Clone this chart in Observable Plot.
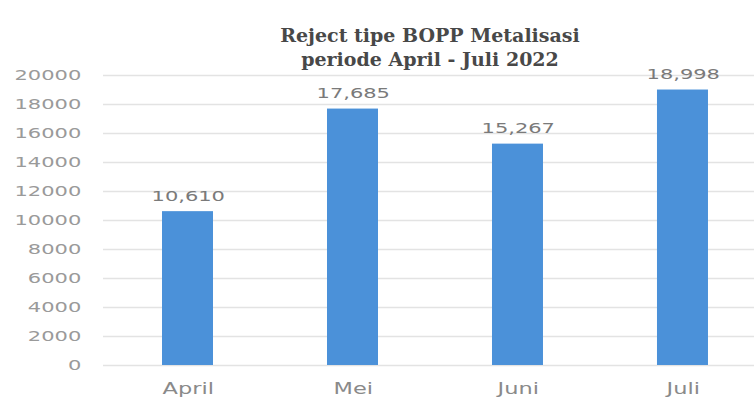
<!DOCTYPE html>
<html>
<head>
<meta charset="utf-8">
<script src="https://cdn.jsdelivr.net/npm/d3@7"></script>
<script src="https://cdn.jsdelivr.net/npm/@observablehq/plot@0.6"></script>
<style>
  html, body { margin: 0; padding: 0; background: #fff; width: 754px; height: 401px; overflow: hidden; }
  #title { height: 70px; box-sizing: border-box; padding-top: 23px; margin-left: 106px; width: 648px;
           text-align: center; font-family: "DejaVu Serif", serif; font-weight: bold; font-size: 19px; line-height: 24px; color: #484848; }
  #chart svg { display: block; transform: scaleX(1.5); transform-origin: 0 0; }
</style>
</head>
<body>
<div id="title">Reject tipe BOPP Metalisasi<br>periode April - Juli 2022</div>
<div id="chart"></div>
<script>
const months = ["April", "Mei", "Juni", "Juli"];
const rejects = [10610, 17685, 15267, 18998];
const yTicks = [0, 2000, 4000, 6000, 8000, 10000, 12000, 14000, 16000, 18000, 20000];

const data = months.map((m, i) => ({month: m, value: rejects[i]}));
const S = 1.5;

const chart = Plot.plot({
  width: 754 / S,
  height: 331,
  marginTop: 5,
  marginBottom: 36,
  marginLeft: 103 / S,
  marginRight: 0,
  style: {fontFamily: "DejaVu Sans", color: "#9a9a9a", overflow: "visible"},
  x: {domain: months, range: [104 / S, 766 / S], paddingInner: 0.69, paddingOuter: 0.345, label: null},
  y: {domain: [0, 20000], label: null},
  marks: [
    Plot.gridY(yTicks, {stroke: "#e3e3e3", strokeOpacity: 1, strokeWidth: 1.5}),
    Plot.axisY(yTicks, {tickSize: 0, tickPadding: 15, fontSize: 14, fill: "#9a9a9a", tickFormat: d => String(d)}),
    Plot.axisX({tickSize: 0, tickPadding: 18, fontSize: 15, fill: "#8a8a8a"}),
    Plot.barY(data, {x: "month", y: "value", fill: "#4b91d9"}),
    Plot.text(data, {x: "month", y: "value", text: d => d3.format(",")(d.value), lineAnchor: "bottom", dy: -11, fontSize: 14, fill: "#7a7a7a"})
  ]
});
document.getElementById("chart").appendChild(chart);
</script>
</body>
</html>
